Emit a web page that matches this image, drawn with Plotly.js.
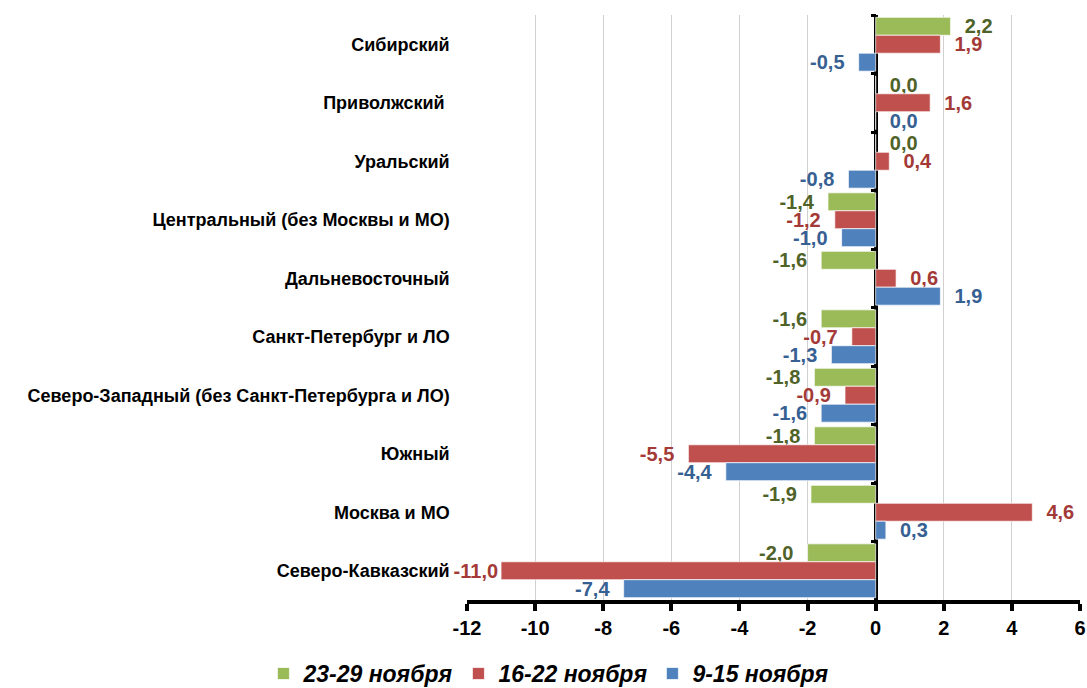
<!DOCTYPE html>
<html>
<head>
<meta charset="utf-8">
<script src="https://cdn.plot.ly/plotly-3.0.1.min.js"></script>
<style>html,body{margin:0;padding:0;background:#fff;}#chart{width:1087px;height:688px;}</style>
</head>
<body>
<div id="chart"></div>
<script>
const categories = [
  "Сибирский",
  "Приволжский ",
  "Уральский",
  "Центральный (без Москвы и МО)",
  "Дальневосточный",
  "Санкт-Петербург и ЛО",
  "Северо-Западный (без Санкт-Петербурга и ЛО)",
  "Южный",
  "Москва и МО",
  "Северо-Кавказский"
];
const seriesNames = ["23-29 ноября", "16-22 ноября", "9-15 ноября"];
const week3 = [2.2, 0.0, 0.0, -1.4, -1.6, -1.6, -1.8, -1.8, -1.9, -2.0];
const week2 = [1.9, 1.6, 0.4, -1.2, 0.6, -0.7, -0.9, -5.5, 4.6, -11.0];
const week1 = [-0.5, 0.0, -0.8, -1.0, 1.9, -1.3, -1.6, -4.4, 0.3, -7.4];
const xTicks = [-12, -10, -8, -6, -4, -2, 0, 2, 4, 6];

const barColors = ["#9BBB59", "#C0504D", "#4F81BD"];
const labelColors = ["#4F6228", "#A33A37", "#376092"];
const pad = "\u00a0\u00a0";
function fmt(v) {
  const s = v.toFixed(1).replace(".", ",");
  if (v <= -10) return s;          // long bar: label squeezed against the bar
  return v < 0 ? s + pad : pad + s;
}

const data = [week3, week2, week1].map((vals, i) => ({
  type: "bar",
  orientation: "h",
  name: seriesNames[i],
  y: categories,
  x: vals,
  text: vals.map(fmt),
  textposition: "outside",
  cliponaxis: false,
  constraintext: "none",
  textfont: {family: "Liberation Sans, Arial, sans-serif", size: 20, weight: "bold", color: labelColors[i]},
  marker: {color: barColors[i], line: {color: "rgba(255,255,255,0.7)", width: 1}},
  hoverinfo: "x+y"
}));

const layout = {
  width: 1087,
  height: 688,
  margin: {l: 467, r: 7, t: 15, b: 88},
  paper_bgcolor: "#ffffff",
  plot_bgcolor: "#ffffff",
  barmode: "group",
  bargap: 0.08,
  bargroupgap: 0,
  font: {family: "Liberation Sans, Arial, sans-serif", color: "#000"},
  showlegend: true,
  legend: {
    orientation: "h",
    xref: "container", yref: "container",
    x: 0.505, xanchor: "center",
    y: 0.021, yanchor: "middle",
    itemwidth: 30,
    font: {size: 23, weight: "bold", style: "italic", color: "#000"},
    traceorder: "normal"
  },
  xaxis: {
    range: [-12, 6],
    tickvals: xTicks,
    ticktext: xTicks.map(String),
    showgrid: true,
    gridcolor: "#d0d0d0",
    gridwidth: 1,
    zeroline: true,
    zerolinecolor: "#000",
    zerolinewidth: 4,
    showline: true,
    linecolor: "#000",
    linewidth: 4,
    ticks: "outside",
    ticklen: 7,
    tickwidth: 4,
    tickcolor: "#000",
    tickfont: {size: 20, weight: "bold", color: "#000"},
    fixedrange: true
  },
  yaxis: {
    type: "category",
    autorange: "reversed",
    anchor: "free",
    position: 12 / 18,
    showline: false,
    ticks: "outside",
    tickson: "boundaries",
    ticklen: 5,
    tickwidth: 3,
    tickcolor: "#000",
    ticklabelstandoff: 426,
    showgrid: false,
    automargin: false,
    tickfont: {size: 18, weight: "bold", color: "#000"},
    fixedrange: true
  }
};

Plotly.newPlot("chart", data, layout, {displayModeBar: false, staticPlot: true});
</script>
</body>
</html>
